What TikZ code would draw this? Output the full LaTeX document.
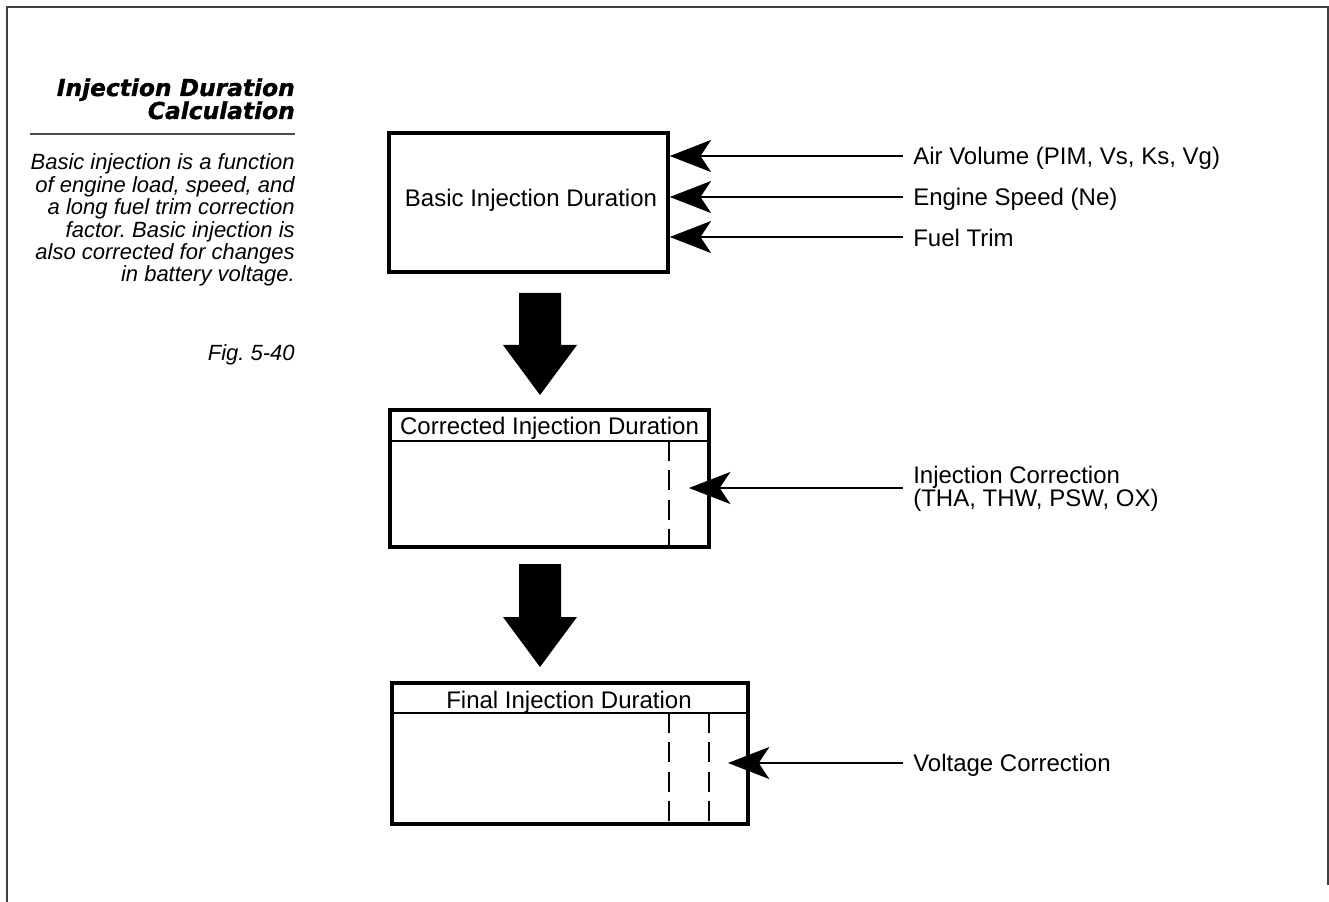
\documentclass[tikz,border=0pt]{standalone}
\usepackage{fontspec}
\setmainfont{Liberation Sans}
\newfontfamily\titlefont{DejaVu Sans}[FakeBold=1.2]
\usetikzlibrary{arrows.meta}
\frenchspacing
\begin{document}
\begin{tikzpicture}[x=0.75pt,y=-0.75pt,
  lbl/.style={font=\fontsize{18}{18}\selectfont, inner sep=0pt, anchor=base west},
  hdr/.style={font=\fontsize{18}{18}\selectfont, inner sep=0pt, anchor=base},
  boxnode/.style={draw, line width=2.6pt, inner sep=0pt},
  inarrow/.style={line width=1.9pt, -{Stealth[length=31pt,width=24pt,inset=8pt]}},
  bigarrow/.style={fill=black},
  divider/.style={line width=1.6pt},
  dashline/.style={line width=1.5pt, dash pattern=on 15pt off 7pt},
  frame/.style={line width=1.1pt, draw=black!75},
  titlestyle/.style={font=\titlefont\bfseries\itshape\fontsize{17.5}{17.5}\selectfont, inner sep=0pt, anchor=base east},
  para/.style={font=\fontsize{16.5}{16.5}\selectfont\itshape, inner sep=0pt, anchor=base east}
]
\useasboundingbox (0,0) rectangle (1329,902);
% frame
\draw[frame] (7,902) -- (7,7) -- (1328,7) -- (1328,885);
% left text column
\node[titlestyle] (t1) at (295,96) {Injection Duration};
\node[titlestyle] (t2) at (295,119) {Calculation};
\draw[line width=0.8pt, black!70] (30,134) -- (295,134);
\node[para] (p1) at (295,170) {Basic injection is a function};
\node[para] (p2) at (295,192.4) {of engine load, speed, and};
\node[para] (p3) at (295,214.8) {a long fuel trim correction};
\node[para] (p4) at (295,237.2) {factor. Basic injection is};
\node[para] (p5) at (295,259.6) {also corrected for changes};
\node[para] (p6) at (295,282) {in battery voltage.};
\node[para] (fig) at (295,361) {Fig. 5-40};
% box 1
\node[boxnode, minimum width=209.25pt, minimum height=104.25pt] (b1) at (528.5,202.5) {};
\node[hdr] (b1t) at (531,207) {Basic Injection Duration};
% inputs to box 1
\coordinate (a1) at (903,156);
\coordinate (a2) at (903,197);
\coordinate (a3) at (903,237);
\draw[inarrow] (a1) -- (b1.east |- a1);
\draw[inarrow] (a2) -- (b1.east |- a2);
\draw[inarrow] (a3) -- (b1.east |- a3);
\node[lbl] (l1) at (913,165) {Air Volume (PIM, Vs, Ks, Vg)};
\node[lbl] (l2) at (913,205.5) {Engine Speed (Ne)};
\node[lbl] (l3) at (913,247) {Fuel Trim};
% big arrow 1
\fill[bigarrow] (519,293) -- (561,293) -- (561,345) -- (577,345) -- (540,395) -- (503,345) -- (519,345) -- cycle;
% box 2
\node[boxnode, minimum width=239.25pt, minimum height=102.75pt] (b2) at (549.5,478.5) {};
\draw[divider] (b2.west |- 0,441) -- (b2.east |- 0,441);
\node[hdr] (b2t) at (549.5,435) {Corrected Injection Duration};
\draw[dashline] (669,441) -- (669,547);
\coordinate (a4) at (903,488);
\coordinate (t4) at (689,488);
\draw[inarrow] (a4) -- (t4);
\node[lbl, align=left, font=\fontsize{18}{17.3}\selectfont, anchor=north west] (l4) at (913,466) {Injection Correction\\(THA, THW, PSW, OX)};
% big arrow 2
\fill[bigarrow] (519,564) -- (561,564) -- (561,617) -- (577,617) -- (540,667) -- (503,617) -- (519,617) -- cycle;
% box 3
\node[boxnode, minimum width=267pt, minimum height=105.75pt] (b3) at (570,753.5) {};
\draw[divider] (b3.west |- 0,713) -- (b3.east |- 0,713);
\node[hdr] (b3t) at (569,708) {Final Injection Duration};
\draw[dashline] (669,713) -- (669,824);
\draw[dashline] (709,713) -- (709,824);
\coordinate (a5) at (903,763);
\coordinate (t5) at (728,763);
\draw[inarrow] (a5) -- (t5);
\node[lbl] (l5) at (913,771) {Voltage Correction};
\end{tikzpicture}
\end{document}
